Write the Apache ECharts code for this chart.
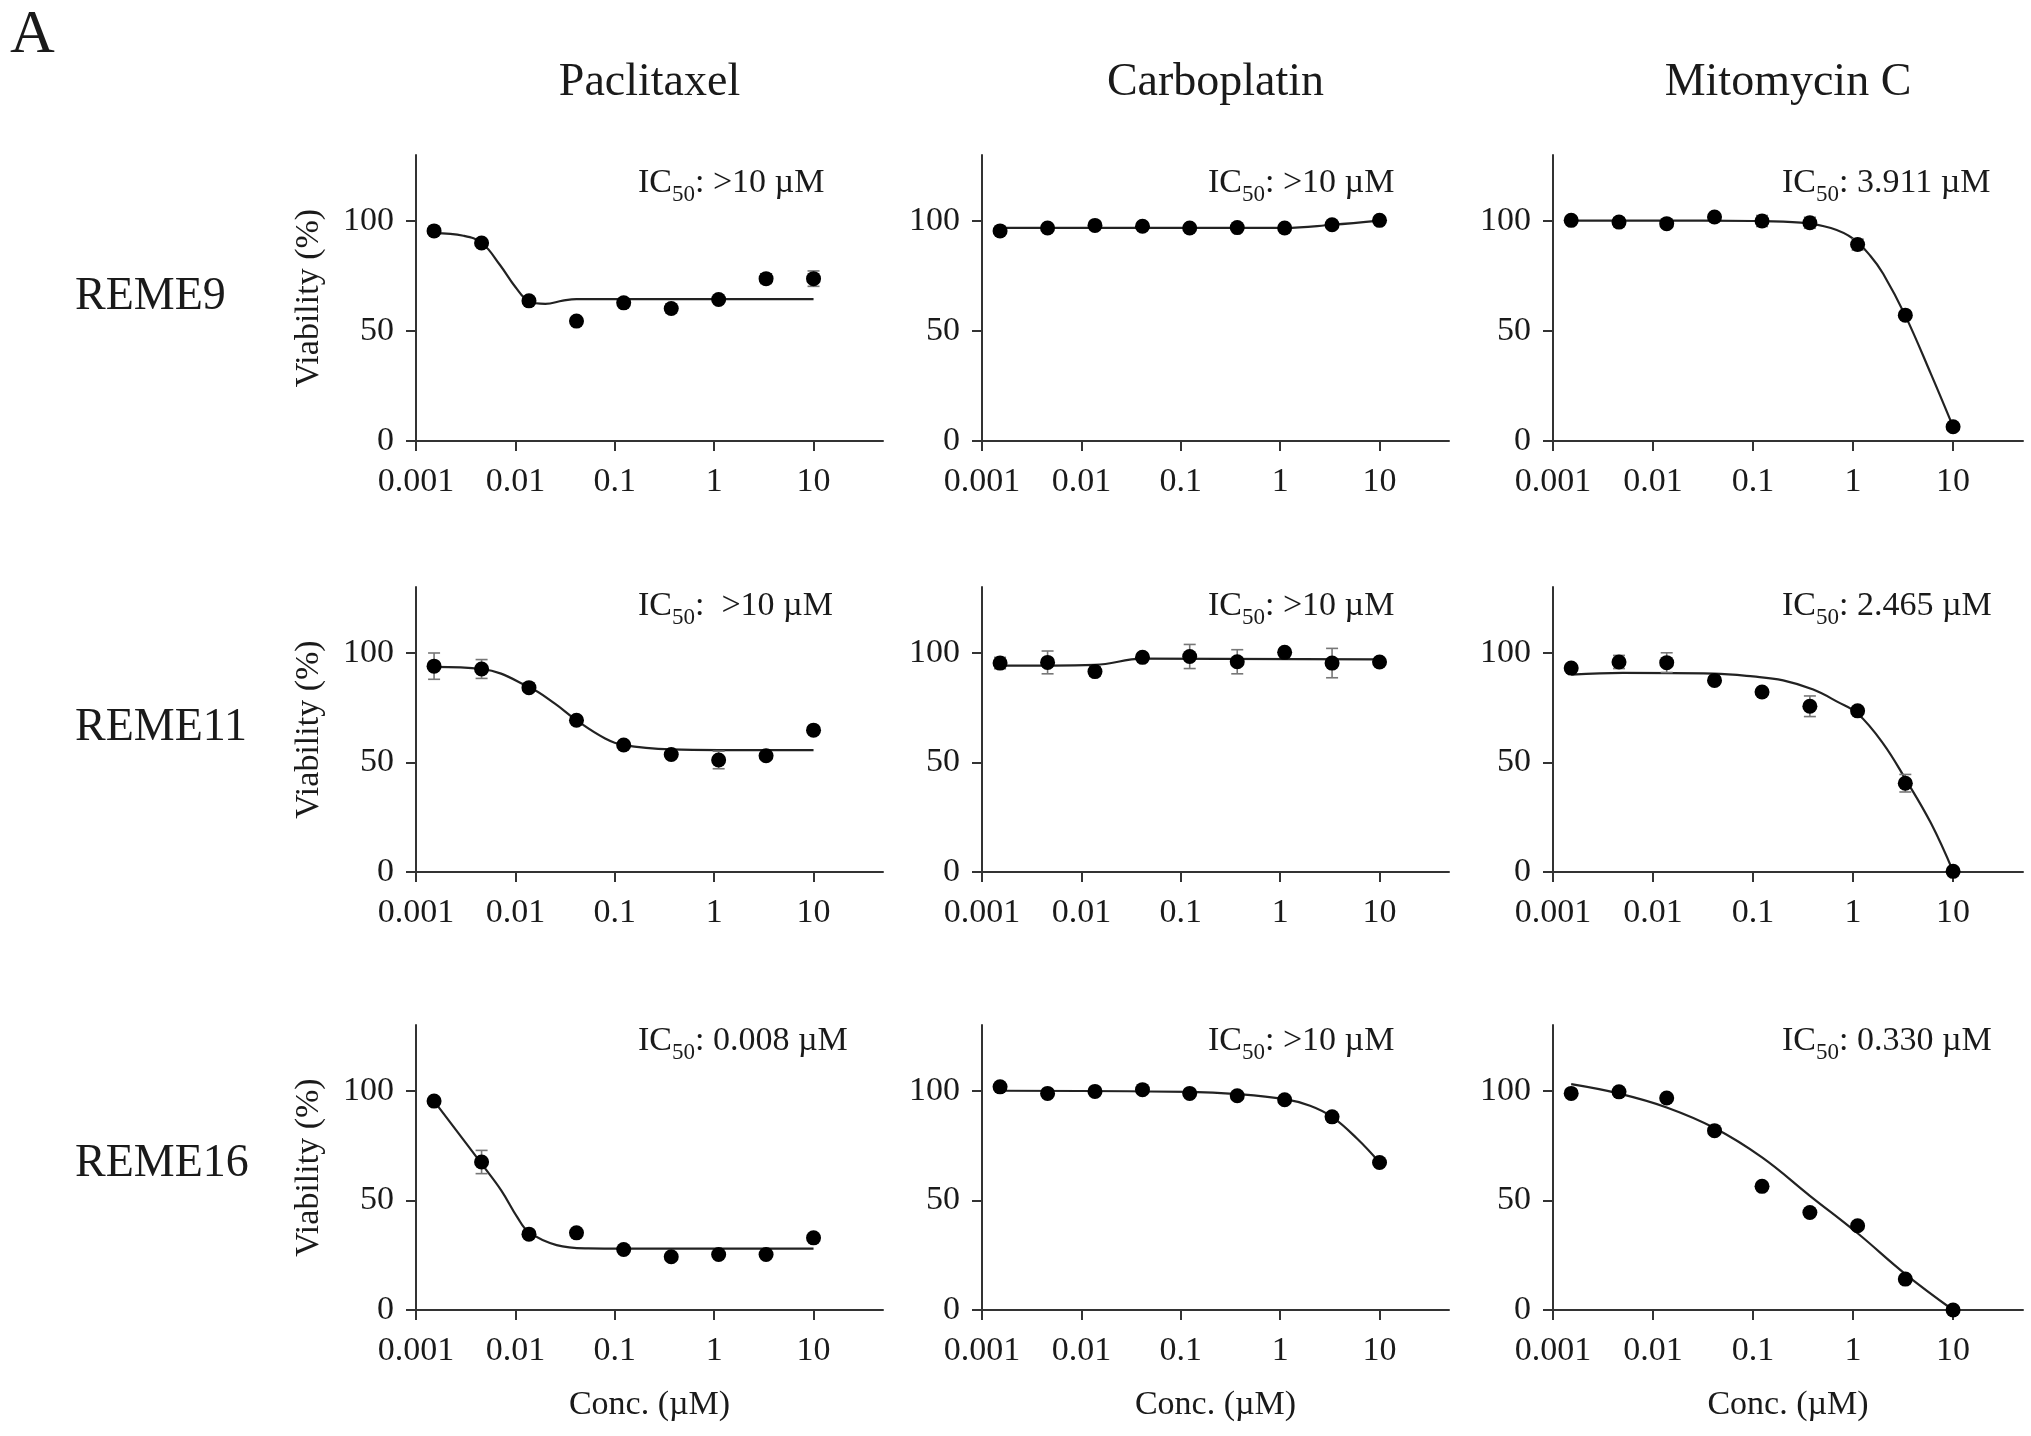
<!DOCTYPE html>
<html><head><meta charset="utf-8">
<script src="https://cdn.jsdelivr.net/npm/echarts@6/dist/echarts.min.js"></script>
<style>html,body{margin:0;padding:0;background:#fff}#chart{width:2031px;height:1436px}</style>
</head><body><div id="chart"></div>
<script>
// ---------- DATA ----------
const conc = [0.00152, 0.00457, 0.0137, 0.0412, 0.123, 0.370, 1.11, 3.33, 10];
const xTickValues = [0.001, 0.01, 0.1, 1, 10];
const xTickLabels = ['0.001', '0.01', '0.1', '1', '10'];
const yTickValues = [0, 50, 100];
const drugs = ['Paclitaxel', 'Carboplatin', 'Mitomycin C'];
const cellLines = ['REME9', 'REME11', 'REME16'];
const ic50Labels = ['>10 µM', '>10 µM', '3.911 µM',
                    ' >10 µM', '>10 µM', '2.465 µM',
                    '0.008 µM', '>10 µM', '0.330 µM'];

// REME9
const reme9Pac = [95.5, 90.0, 63.7, 54.5, 62.8, 60.2, 64.3, 73.8, 73.8];
const reme9PacErr = [0.8, 1, 1, 1, 1, 2, 1, 2.2, 3.5];
const reme9PacFitX = [0.00152, 0.003, 0.0046, 0.007, 0.01, 0.0137, 0.02, 0.03, 0.0412, 10];
const reme9PacFitY = [94.5, 93.3, 90, 80, 70, 63.5, 62.3, 63.8, 64.5, 64.5];

const reme9Carbo = [95.5, 96.8, 98.0, 97.6, 96.8, 97.0, 96.8, 98.3, 100.3];
const reme9CarboErr = [1, 1, 1, 1, 1, 1, 1, 1, 1];
const reme9CarboFitX = [0.00152, 1.11, 3.33, 10];
const reme9CarboFitY = [96.9, 96.9, 98.3, 100.2];

const reme9Mito = [100.3, 99.5, 98.8, 101.8, 100.0, 99.2, 89.3, 57.2, 6.5];
const reme9MitoErr = [1, 2, 1, 1, 2.5, 2.5, 2.5, 1.5, 1];
const reme9MitoFitX = [0.00152, 0.01, 0.1, 0.3, 0.6, 1.0, 1.5, 2.0, 3.33, 6, 10];
const reme9MitoFitY = [100.2, 100.2, 100, 99.3, 96.8, 92.0, 84, 76, 57, 30.5, 6.5];

// REME11
const reme11Pac = [93.9, 92.6, 84.1, 69.2, 57.9, 53.6, 51.1, 53.0, 64.7];
const reme11PacErr = [6, 4.3, 1.5, 1, 1, 1.5, 4, 1, 1.5];
const reme11PacFitX = [0.00152, 0.0046, 0.0137, 0.025, 0.0412, 0.08, 0.123, 0.37, 1.11, 10];
const reme11PacFitY = [93.6, 92.6, 84.4, 76.8, 69.2, 60.9, 57.9, 55.9, 55.6, 55.6];

const reme11Carbo = [95.3, 95.6, 91.4, 97.9, 98.3, 95.9, 100.2, 95.3, 95.8];
const reme11CarboErr = [2.6, 5.2, 2, 1, 5.5, 5.5, 1, 6.7, 0.5];
const reme11CarboFitX = [0.00152, 0.0137, 0.0412, 10];
const reme11CarboFitY = [94.1, 94.5, 97.3, 97.0];

const reme11Mito = [93.0, 95.8, 95.5, 87.4, 82.1, 75.6, 73.5, 40.5, 0.3];
const reme11MitoErr = [1, 3, 4.5, 1.5, 1, 4.7, 1.5, 4, 0.5];
const reme11MitoFitX = [0.00152, 0.005, 0.04, 0.1, 0.2, 0.4, 0.7, 1.11, 2, 3.33, 6, 10];
const reme11MitoFitY = [90.0, 90.8, 90.5, 89.2, 87.4, 83.2, 77.6, 72.3, 58.6, 42.5, 22.3, 0.3];

// REME16
const reme16Pac = [95.3, 67.5, 34.6, 35.2, 27.6, 24.3, 25.3, 25.3, 32.9];
const reme16PacErr = [1, 5.3, 1, 1, 1, 1, 1, 1, 1];
const reme16PacFitX = [0.00152, 0.0046, 0.0072, 0.0104, 0.0137, 0.026, 0.054, 0.123, 10];
const reme16PacFitY = [95.3, 66.5, 54.6, 42.5, 35.5, 29.6, 28.1, 28, 28];

const reme16Carbo = [101.8, 98.8, 99.7, 100.5, 98.8, 97.7, 95.9, 88.1, 67.3];
const reme16CarboErr = [1, 1, 1, 1, 1, 1.5, 1, 1, 1];
const reme16CarboFitX = [0.00152, 0.123, 0.37, 1.11, 2, 3.33, 6, 10];
const reme16CarboFitY = [100, 99.5, 98.5, 96.2, 93.2, 88.1, 78, 67.3];

const reme16Mito = [98.8, 99.5, 96.7, 81.8, 56.4, 44.5, 38.4, 14.1, 0];
const reme16MitoErr = [1, 1.5, 1, 1, 1, 1, 1, 1, 0.5];
const reme16MitoFitX = [0.00152, 0.0046, 0.0137, 0.0412, 0.123, 0.37, 1.11, 3.33, 10];
const reme16MitoFitY = [103, 98.7, 92.4, 83, 69.6, 52.1, 35, 16.4, 0];

// ---------- LAYOUT ----------
const FONT = '"Liberation Serif", "Times New Roman", serif';
const gridLeft = [416, 982, 1553];
const gridWidth = [467, 467, 470];
const gridTop = [155, 587, 1025];
const gridHeight = [286, 285, 285];
const icLeft = [638, 1208, 1782];
const icTop = [166, 589, 1024];
const rowLabelY = [297, 728, 1164];

const panels = [
  [reme9Pac, reme9PacErr, reme9PacFitX, reme9PacFitY],
  [reme9Carbo, reme9CarboErr, reme9CarboFitX, reme9CarboFitY],
  [reme9Mito, reme9MitoErr, reme9MitoFitX, reme9MitoFitY],
  [reme11Pac, reme11PacErr, reme11PacFitX, reme11PacFitY],
  [reme11Carbo, reme11CarboErr, reme11CarboFitX, reme11CarboFitY],
  [reme11Mito, reme11MitoErr, reme11MitoFitX, reme11MitoFitY],
  [reme16Pac, reme16PacErr, reme16PacFitX, reme16PacFitY],
  [reme16Carbo, reme16CarboErr, reme16CarboFitX, reme16CarboFitY],
  [reme16Mito, reme16MitoErr, reme16MitoFitX, reme16MitoFitY]
];

const AXIS_COLOR = '#333';
const TEXT_COLOR = '#1a1a1a';

function xLabel(v) {
  for (let k = 0; k < xTickValues.length; k++) {
    if (Math.abs(Math.log10(v) - Math.log10(xTickValues[k])) < 1e-6) return xTickLabels[k];
  }
  return '';
}

const grid = [], xAxis = [], yAxis = [], series = [], title = [];

panels.forEach((p, i) => {
  const r = Math.floor(i / 3), c = i % 3;
  const [vals, errs, fx, fy] = p;
  grid.push({left: gridLeft[c], top: gridTop[r], width: gridWidth[c], height: gridHeight[r]});
  xAxis.push({
    gridIndex: i, type: 'log', logBase: 10, min: 0.001, max: 50,
    axisLine: {show: true, onZero: false, lineStyle: {color: AXIS_COLOR, width: 2}},
    axisTick: {show: true, length: 10, customValues: xTickValues, lineStyle: {color: AXIS_COLOR, width: 2}},
    axisLabel: {customValues: xTickValues, formatter: xLabel, fontSize: 34, fontFamily: FONT, color: TEXT_COLOR, margin: 24},
    splitLine: {show: false}, minorTick: {show: false},
    name: r === 2 ? 'Conc. (µM)' : '', nameLocation: 'middle', nameGap: 78,
    nameTextStyle: {fontSize: 34, fontFamily: FONT, color: TEXT_COLOR}
  });
  yAxis.push({
    gridIndex: i, type: 'value', min: 0, max: 130,
    axisLine: {show: true, onZero: false, lineStyle: {color: AXIS_COLOR, width: 2}},
    axisTick: {show: true, length: 10, customValues: yTickValues, lineStyle: {color: AXIS_COLOR, width: 2}},
    axisLabel: {customValues: yTickValues, fontSize: 34, fontFamily: FONT, color: TEXT_COLOR, margin: 22},
    splitLine: {show: false},
    name: c === 0 ? 'Viability (%)' : '', nameLocation: 'middle', nameGap: 90,
    nameTextStyle: {fontSize: 34, fontFamily: FONT, color: TEXT_COLOR}
  });
  series.push({
    type: 'line', xAxisIndex: i, yAxisIndex: i,
    data: fx.map((x, j) => [x, fy[j]]),
    smooth: 0.4, showSymbol: false, symbol: 'none',
    lineStyle: {color: '#222', width: 2.2}, z: 2, silent: true
  });
  series.push({
    type: 'custom', xAxisIndex: i, yAxisIndex: i, z: 3, silent: true,
    data: conc.map((x, j) => [x, vals[j] - errs[j], vals[j] + errs[j]]),
    encode: {x: 0, y: [1, 2]},
    renderItem: (params, api) => {
      const lo = api.coord([api.value(0), api.value(1)]);
      const hi = api.coord([api.value(0), api.value(2)]);
      const w = 6;
      const st = {stroke: '#777', lineWidth: 1.6};
      return {type: 'group', children: [
        {type: 'line', shape: {x1: lo[0], y1: lo[1], x2: hi[0], y2: hi[1]}, style: st},
        {type: 'line', shape: {x1: lo[0] - w, y1: lo[1], x2: lo[0] + w, y2: lo[1]}, style: st},
        {type: 'line', shape: {x1: hi[0] - w, y1: hi[1], x2: hi[0] + w, y2: hi[1]}, style: st}
      ]};
    }
  });
  series.push({
    type: 'scatter', xAxisIndex: i, yAxisIndex: i, z: 4, silent: true,
    data: conc.map((x, j) => [x, vals[j]]),
    symbol: 'circle', symbolSize: 15, itemStyle: {color: '#000', opacity: 1}
  });
  title.push({
    text: '{m|IC}{s|50}{m|: ' + ic50Labels[i] + '}',
    left: icLeft[c], top: icTop[r], padding: 0, textAlign: 'left', textVerticalAlign: 'top',
    textStyle: {
      fontWeight: 'normal',
      rich: {
        m: {fontSize: 34, fontFamily: FONT, color: TEXT_COLOR, lineHeight: 34, verticalAlign: 'top'},
        s: {fontSize: 23, fontFamily: FONT, color: TEXT_COLOR, lineHeight: 40, verticalAlign: 'bottom'}
      }
    }
  });
});

drugs.forEach((d, c) => {
  title.push({
    text: d, left: gridLeft[c] + gridWidth[c] / 2, top: 83, padding: 0,
    textAlign: 'center', textVerticalAlign: 'middle',
    textStyle: {fontSize: 46, fontFamily: FONT, color: TEXT_COLOR, fontWeight: 'normal'}
  });
});
cellLines.forEach((n, r) => {
  title.push({
    text: n, left: 75, top: rowLabelY[r], padding: 0,
    textAlign: 'left', textVerticalAlign: 'middle',
    textStyle: {fontSize: 46, fontFamily: FONT, color: TEXT_COLOR, fontWeight: 'normal'}
  });
});
title.push({
  text: 'A', left: 10, top: 36, padding: 0, textAlign: 'left', textVerticalAlign: 'middle',
  textStyle: {fontSize: 62, fontFamily: FONT, color: TEXT_COLOR, fontWeight: 'normal'}
});

const chart = echarts.init(document.getElementById('chart'), null, {renderer: 'canvas'});
chart.setOption({
  backgroundColor: '#fff',
  animation: false,
  title, grid, xAxis, yAxis, series
});
</script>
</body></html>
